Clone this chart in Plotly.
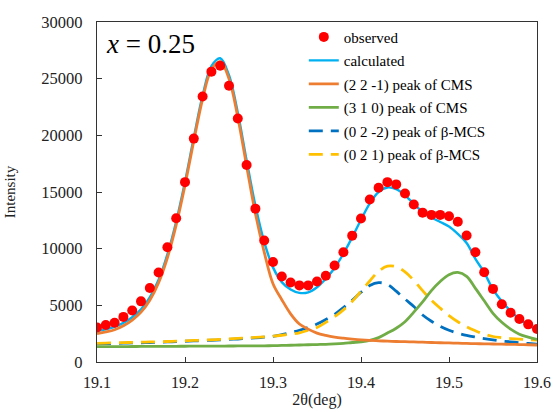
import plotly.graph_objects as go

two_theta = [round(19.10 + 0.01 * i, 2) for i in range(51)]

observed = [3050, 3270, 3460, 3980, 4540, 5350, 6530, 7900, 10120, 12680,
            15870, 19710, 23420, 25620, 26140, 24370, 21480, 17380, 13530, 10720,
            8820, 7550, 7020, 6760, 6760, 7110, 7610, 8520, 9680, 11150,
            12660, 14340, 15370, 15870, 15670, 14870, 13900, 13180, 12980, 12980,
            12860, 12380, 11160, 9690, 7920, 6450, 5100, 4340, 3790, 3320, 2910]

calculated = [2750, 2880, 3100, 3450, 3950, 4650, 5700, 7250, 9500, 12400,
              15900, 19800, 23500, 26100, 26800, 25300, 22000, 17800, 13800, 10600,
              8350, 7050, 6400, 6100, 6150, 6600, 7350, 8300, 9550, 11000,
              12550, 14000, 15000, 15400, 15250, 14700, 13950, 13250, 12750, 12350,
              11950, 11300, 10500, 9100, 7900, 6400, 5350, 4500, 3800, 3250, 2850]

peak_cms_221 = [2500, 2650, 2850, 3200, 3700, 4400, 5450, 7000, 9200, 12100,
                15600, 19500, 23200, 25800, 26500, 25000, 21600, 17300, 13100, 9700,
                6900, 5500, 4250, 3350, 2900, 2550, 2350, 2200, 2100, 2020,
                1950, 1900, 1870, 1840, 1810, 1790, 1770, 1750, 1720, 1700,
                1680, 1660, 1640, 1620, 1600, 1590, 1570, 1560, 1540, 1520, 1500]

peak_cms_310 = [1350, 1354, 1358, 1362, 1366, 1370, 1374, 1378, 1382, 1386,
                1390, 1394, 1398, 1402, 1406, 1410, 1414, 1418, 1422, 1426,
                1440, 1460, 1480, 1500, 1520, 1540, 1560, 1600, 1650, 1720,
                1780, 1900, 2150, 2550, 2980, 3550, 4400, 5300, 6300, 7100,
                7700, 7900, 7550, 6500, 5400, 4300, 3500, 2900, 2450, 2200, 2000]

peak_mcs_022 = [1600, 1620, 1640, 1660, 1680, 1700, 1720, 1740, 1770, 1800,
                1830, 1860, 1890, 1920, 1950, 1990, 2030, 2080, 2130, 2190,
                2260, 2420, 2600, 2800, 3050, 3350, 3750, 4200, 4800, 5450,
                6150, 6750, 7000, 6850, 6250, 5550, 4900, 4150, 3600, 3150,
                2800, 2550, 2350, 2200, 2070, 1950, 1850, 1780, 1700, 1640, 1580]

peak_mcs_021 = [1650, 1670, 1690, 1710, 1730, 1750, 1770, 1790, 1810, 1840,
                1870, 1900, 1930, 1960, 2000, 2040, 2080, 2120, 2170, 2220,
                2280, 2360, 2460, 2580, 2800, 3050, 3500, 4000, 4600, 5350,
                6250, 7150, 8000, 8450, 8400, 7950, 7200, 6300, 5450, 4750,
                4100, 3550, 3100, 2750, 2450, 2250, 2150, 2070, 2010, 1970, 1940]

x_ticks = [19.1, 19.2, 19.3, 19.4, 19.5, 19.6]
y_ticks = [0, 5000, 10000, 15000, 20000, 25000, 30000]

FONT = "Liberation Serif, Times New Roman, serif"

fig = go.Figure()

def add_line(y, name, color, dash, rank, width=2.6):
    fig.add_trace(go.Scatter(
        x=two_theta, y=y, mode="lines", name=name, legendrank=rank,
        legendgroup=name, line=dict(color=color, width=width, dash=dash, shape="spline"),
    ))

add_line(calculated, "calculated", "#00B0F0", "solid", 2, 2.4)
add_line(peak_mcs_022, "(0 2 -2) peak of β-MCS", "#0070C0", "14px,8px", 5, 2.8)
add_line(peak_mcs_021, "(0 2 1) peak of β-MCS", "#FFC000", "14px,8px", 6, 2.8)
add_line(peak_cms_310, "(3 1 0) peak of CMS", "#70AD47", "solid", 4, 2.8)
add_line(peak_cms_221, "(2 2 -1) peak of CMS", "#ED7D31", "solid", 3, 2.8)

fig.add_trace(go.Scatter(
    x=two_theta, y=observed, mode="markers", name="observed", legendrank=1,
    legendgroup="observed",
    marker=dict(color="#FF0000", size=10, line=dict(width=0)),
))

fig.add_annotation(
    x=0.015, y=0.985, xref="paper", yref="paper", xanchor="left", yanchor="top",
    text="<i>x</i> = 0.25", showarrow=False,
    font=dict(family=FONT, size=27, color="black"),
)

fig.update_layout(
    width=553, height=412,
    margin=dict(l=97, r=16, t=22, b=50, autoexpand=False),
    paper_bgcolor="white", plot_bgcolor="white",
    font=dict(family=FONT, size=16, color="#222"),
    showlegend=True,
    legend=dict(
        x=0.47, y=1.004, xanchor="left", yanchor="top",
        bgcolor="rgba(0,0,0,0)", borderwidth=0,
        font=dict(family=FONT, size=15, color="black"),
        traceorder="grouped", tracegroupgap=1,
        itemwidth=30,
    ),
    xaxis=dict(
        range=[19.1, 19.6], tickvals=x_ticks, ticktext=[f"{v:.1f}" for v in x_ticks],
        showgrid=False, zeroline=False, automargin=False,
        showline=True, linecolor="#333", linewidth=1.3, mirror=True,
        ticks="inside", ticklen=5, tickcolor="#333",
        ticklabelstandoff=6, ticklabeloverflow="allow",
        tickfont=dict(family=FONT, size=16, color="#222"),
        title=dict(text="2θ(deg)", font=dict(family=FONT, size=16, color="#222"), standoff=3),
    ),
    yaxis=dict(
        range=[0, 30000], tickvals=y_ticks, ticktext=[str(v) for v in y_ticks],
        showgrid=False, zeroline=False, automargin=False,
        showline=True, linecolor="#333", linewidth=1.3, mirror=True,
        ticks="inside", ticklen=5, tickcolor="#333",
        ticklabelstandoff=10,
        tickfont=dict(family=FONT, size=16.5, color="#222"),
        title=dict(text="Intensity", font=dict(family=FONT, size=15, color="#222"), standoff=22),
    ),
)

fig.write_html(
    "out.html",
    config={"displayModeBar": False},
    post_script="document.body.style.margin='0px';document.body.style.overflow='hidden';",
)
